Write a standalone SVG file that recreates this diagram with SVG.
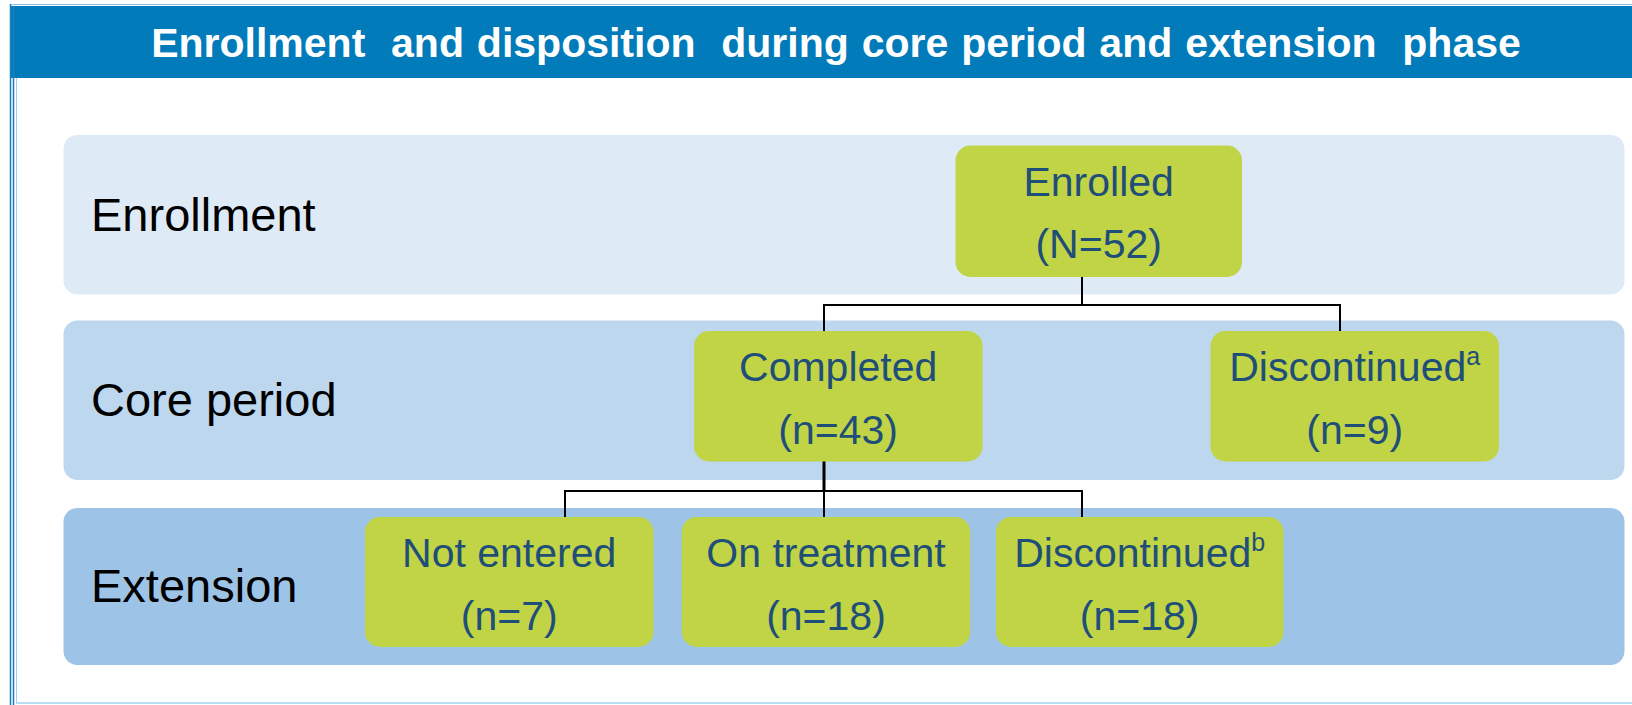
<svg xmlns="http://www.w3.org/2000/svg" width="1632" height="705" viewBox="0 0 1632 705">
<style>
.band{stroke:none}
.box{fill:#C0D446;stroke:none}
.bt{font-family:"Liberation Sans",Arial,sans-serif;font-size:41px;fill:#1F4E79;text-anchor:middle}
.rl{font-family:"Liberation Sans",Arial,sans-serif;font-size:47px;fill:#000000}
.sup{font-size:25px}
.conn{fill:none;stroke:#000000;stroke-width:2}
</style>
<rect x="0" y="0" width="1632" height="705" fill="#FFFFFF"/>
<g id="frame">
<rect x="10" y="6" width="1622" height="72" fill="#027BBA"/>
<line x1="10" y1="4.5" x2="1632" y2="4.5" stroke="#8EC2E3" stroke-width="1"/>
<line x1="10.5" y1="4" x2="10.5" y2="705" stroke="#1A7EBF" stroke-width="1.5"/>
<line x1="13.5" y1="6" x2="13.5" y2="705" stroke="#1A7EBF" stroke-width="1.5"/>
<line x1="16.5" y1="78" x2="16.5" y2="703" stroke="#9FD0EE" stroke-width="1"/>
<line x1="16" y1="703" x2="1632" y2="703" stroke="#9FD3EE" stroke-width="1.5"/>
<text x="836" y="57" xml:space="preserve" font-family="'Liberation Sans',Arial,sans-serif" font-size="41" font-weight="bold" fill="#FFFFFF" text-anchor="middle" word-spacing="1.5">Enrollment  and disposition  during core period and extension  phase</text>
</g>
<g id="band-enrollment">
<rect class="band" x="63.5" y="135" width="1561" height="159.5" rx="14" fill="#DEEAF6"/>
<text class="rl" x="91" y="231">Enrollment</text>
</g>
<g id="band-core">
<rect class="band" x="63.5" y="320.5" width="1561" height="159.5" rx="14" fill="#BDD7EE"/>
<text class="rl" x="91" y="416">Core period</text>
</g>
<g id="band-extension">
<rect class="band" x="63.5" y="508" width="1561" height="157" rx="14" fill="#9DC3E6"/>
<text class="rl" x="91" y="602">Extension</text>
</g>
<g id="connectors">
<polyline class="conn" points="1082,277 1082,305"/>
<polyline class="conn" points="824,331 824,305 1340,305 1340,331"/>
<polyline class="conn" points="824,461 824,491" style="stroke-width:3"/>
<polyline class="conn" points="565,517 565,491 1082,491 1082,517"/>
<polyline class="conn" points="824,491 824,517"/>
</g>
<g id="node-enrolled">
<rect class="box" x="955.5" y="145.5" width="286.5" height="131.5" rx="15"/>
<text class="bt" x="1098.7" y="196">Enrolled</text>
<text class="bt" x="1098.7" y="258">(N=52)</text>
</g>
<g id="node-completed">
<rect class="box" x="694" y="331" width="288.5" height="130.5" rx="15"/>
<text class="bt" x="838.2" y="381">Completed</text>
<text class="bt" x="838.2" y="444">(n=43)</text>
</g>
<g id="node-discontinued-core">
<rect class="box" x="1210.5" y="331" width="288.5" height="130.5" rx="15"/>
<text class="bt" x="1354.7" y="381">Discontinued<tspan class="sup" dy="-16">a</tspan></text>
<text class="bt" x="1354.7" y="444">(n=9)</text>
</g>
<g id="node-not-entered">
<rect class="box" x="365" y="517" width="288.5" height="130" rx="15"/>
<text class="bt" x="509.2" y="567">Not entered</text>
<text class="bt" x="509.2" y="630">(n=7)</text>
</g>
<g id="node-on-treatment">
<rect class="box" x="681.7" y="517" width="288.5" height="130" rx="15"/>
<text class="bt" x="826" y="567">On treatment</text>
<text class="bt" x="826" y="630">(n=18)</text>
</g>
<g id="node-discontinued-ext">
<rect class="box" x="996" y="517" width="287.5" height="130" rx="15"/>
<text class="bt" x="1139.7" y="567">Discontinued<tspan class="sup" dy="-16">b</tspan></text>
<text class="bt" x="1139.7" y="630">(n=18)</text>
</g>
</svg>
